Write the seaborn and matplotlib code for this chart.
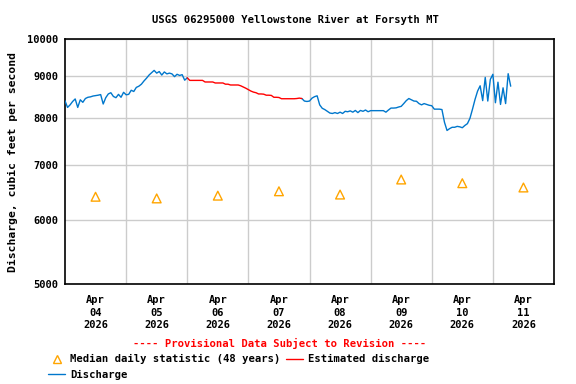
"""USGS 06295000 Yellowstone River at Forsyth MT -- discharge hydrograph."""

import numpy as np
import pandas as pd
import matplotlib
matplotlib.use("Agg")
import matplotlib.pyplot as plt
from matplotlib.lines import Line2D
import seaborn as sns

sns.set_theme(style="white")
plt.rcParams["font.family"] = ["DejaVu Sans Mono"]
plt.rcParams["font.weight"] = "bold"
plt.rcParams["text.color"] = "black"
plt.rcParams["axes.labelcolor"] = "black"

BLUE = "#0077cc"
RED = "#ff0000"
ORANGE = "#ffa500"
GRID = "#cccccc"

# ── data (hourly, cfs) ───────────────────────────────────────────────────────
START = "2026-04-04 00:00"

# Apr 04 00:00 -> Apr 06 00:00, provisional
discharge_a = [
    8395, 8240, 8300, 8380, 8440, 8240, 8420, 8360, 8450, 8480, 8490, 8510,
    8520, 8530, 8545, 8320, 8470, 8560, 8590, 8500, 8470, 8550, 8480, 8600,
    8540, 8550, 8650, 8620, 8720, 8750, 8800, 8880, 8950, 9030, 9090, 9150,
    9080, 9120, 9030, 9110, 9060, 9080, 9060, 8990, 9050, 9020, 9040, 8900,
    8960,
]
# Apr 06 00:00 -> Apr 07 21:00, estimated
estimated = [
    8960, 8895, 8895, 8895, 8895, 8895, 8895, 8855, 8855, 8855, 8855, 8830,
    8830, 8830, 8830, 8800, 8800, 8780, 8780, 8780, 8780, 8760, 8730, 8700,
    8665, 8630, 8605, 8590, 8560, 8560, 8555, 8530, 8530, 8525, 8480, 8480,
    8475, 8445, 8445, 8445, 8445, 8445, 8445, 8450, 8460, 8450,
]
# Apr 07 21:00 -> Apr 11 07:00, provisional
discharge_b = [
    8450, 8390, 8380,
    8390, 8460, 8495, 8515, 8300, 8220, 8190, 8150, 8110, 8100, 8120, 8100,
    8130, 8100, 8150, 8140, 8160, 8130, 8170, 8120, 8170, 8150, 8180, 8140,
    8165, 8165, 8165, 8165, 8165, 8165, 8130, 8180, 8225, 8225, 8230, 8250,
    8265, 8330, 8400, 8450, 8420, 8390, 8385, 8330, 8300, 8330, 8310, 8290,
    8280, 8200, 8200, 8200, 8190, 7900, 7720, 7760, 7790, 7790, 7810, 7800,
    7780, 7830, 7870, 7990, 8200, 8430, 8630, 8760, 8400, 8970, 8390, 8920,
    9050, 8350, 8850, 8310, 8710, 8330, 9065, 8750,
]

# median daily statistic (48 years), plotted at noon
median_days = pd.date_range("2026-04-04 12:00", periods=8, freq="D")
median_cfs = [6400, 6370, 6420, 6500, 6440, 6720, 6650, 6570]

Y_TICKS = [5000, 6000, 7000, 8000, 9000, 10000]


def hourly(start, values):
    return pd.date_range(start, periods=len(values), freq="h")


t0 = pd.Timestamp(START)
frames = [
    pd.DataFrame({"time": hourly(t0, discharge_a), "cfs": discharge_a,
                  "kind": "Discharge", "seg": 0}),
    pd.DataFrame({"time": hourly(t0 + pd.Timedelta(hours=48), estimated),
                  "cfs": estimated, "kind": "Estimated", "seg": 1}),
    pd.DataFrame({"time": hourly(t0 + pd.Timedelta(hours=93), discharge_b),
                  "cfs": discharge_b, "kind": "Discharge", "seg": 2}),
]
df = pd.concat(frames, ignore_index=True)
med = pd.DataFrame({"time": median_days, "cfs": median_cfs})

# ── figure ───────────────────────────────────────────────────────────────────
fig = plt.figure(figsize=(5.76, 3.84), dpi=100)
ax = fig.add_axes([65 / 576, 1 - 284 / 384, 489 / 576, 245 / 384])

sns.lineplot(data=df, x="time", y="cfs", hue="kind", units="seg",
             estimator=None, palette={"Discharge": BLUE, "Estimated": RED},
             linewidth=1.0, legend=False, ax=ax, zorder=3)
sns.scatterplot(data=med, x="time", y="cfs", marker="^", s=40,
                facecolors="none", edgecolor=ORANGE, linewidth=1.0,
                legend=False, ax=ax, zorder=4)

ax.set_yscale("log")
ax.set_ylim(5000, 10000)
ax.set_yticks(Y_TICKS)
ax.set_yticklabels([str(v) for v in Y_TICKS])
ax.yaxis.set_minor_locator(matplotlib.ticker.NullLocator())

midnights = pd.date_range("2026-04-04", periods=9, freq="D")
ax.set_xlim(midnights[0], midnights[-1])
ax.set_xticks(median_days)
ax.set_xticklabels([d.strftime("%b\n%d\n%Y") for d in median_days],
                   linespacing=1.3)
ax.set_xticks(midnights[1:-1], minor=True)

ax.grid(False)
ax.grid(True, which="minor", axis="x", color=GRID, linewidth=1.0)
ax.grid(True, which="major", axis="y", color=GRID, linewidth=1.0)
ax.set_axisbelow(True)
ax.tick_params(which="both", length=0, labelsize=7.5, colors="black")
ax.tick_params(axis="x", pad=8)
ax.tick_params(axis="y", pad=5)
for s in ax.spines.values():
    s.set_color("black")
    s.set_linewidth(1.2)

ax.set_xlabel("")
ax.set_ylabel("Discharge, cubic feet per second", fontsize=8.2,
              fontweight="bold", labelpad=6)

fig.text(295 / 576, 1 - 20 / 384, "USGS 06295000 Yellowstone River at Forsyth MT",
         ha="center", va="center", fontsize=7.6, fontweight="bold")
fig.text(280 / 576, 1 - 343 / 384,
         "---- Provisional Data Subject to Revision ----",
         ha="center", va="center", fontsize=7.6, fontweight="bold", color=RED)

handles = [
    Line2D([], [], linestyle="none", marker="^", markersize=6,
           markerfacecolor="none", markeredgecolor=ORANGE, markeredgewidth=1.0),
    Line2D([], [], color=BLUE, linewidth=1.0),
    Line2D([], [], color=RED, linewidth=1.0),
]
labels = ["Median daily statistic (48 years)", "Discharge", "Estimated discharge"]
fig.legend(handles, labels, ncol=2, loc="upper left",
           bbox_to_anchor=(43 / 576, 1 - 349 / 384), frameon=False,
           fontsize=7.6, handlelength=1.6, handletextpad=0.45,
           columnspacing=0.55, labelspacing=0.55, borderpad=0,
           labelcolor="black")

fig.savefig("out.png", dpi=100)
